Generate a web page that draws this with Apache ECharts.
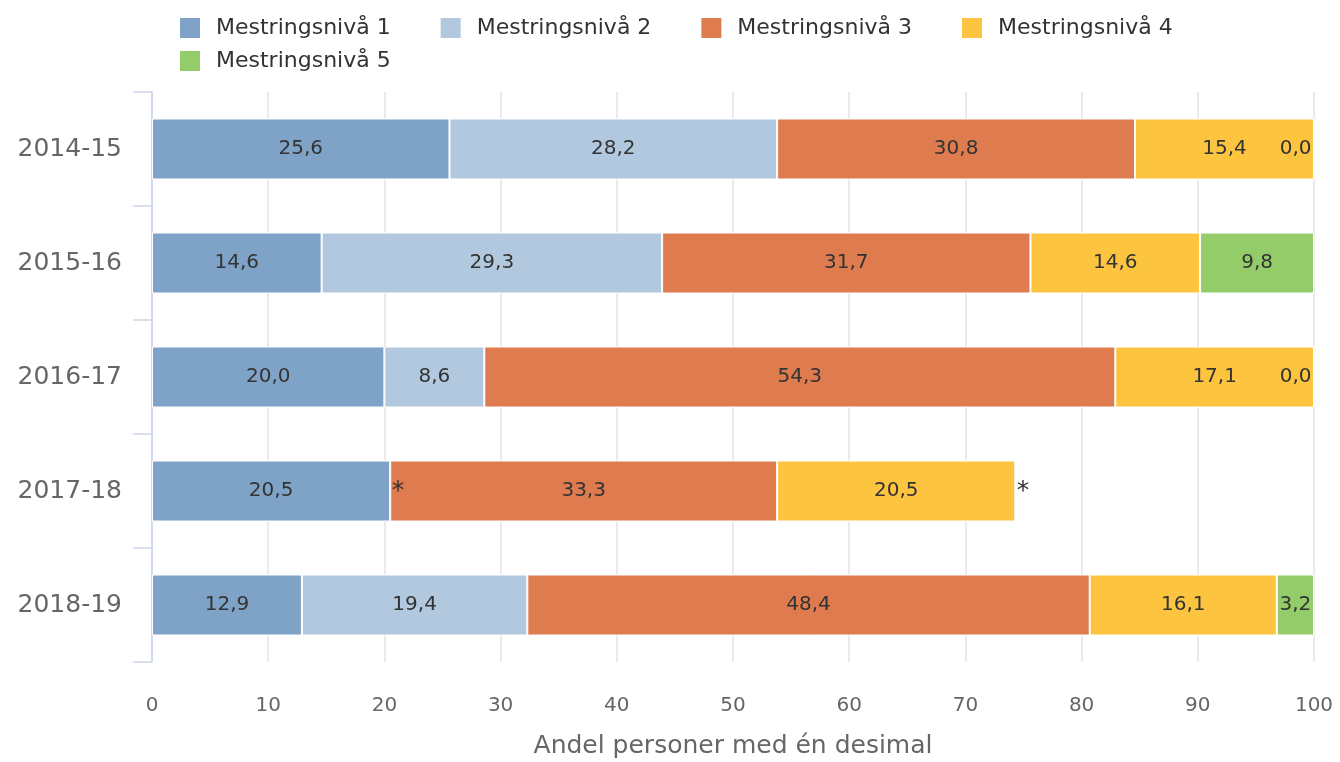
<!DOCTYPE html>
<html>
<head>
<meta charset="utf-8">
<script src="https://cdn.jsdelivr.net/npm/echarts@6/dist/echarts.min.js"></script>
<style>
html,body{margin:0;padding:0;background:#fff;}
#chart{width:1340px;height:762px;}
</style>
</head>
<body>
<div id="chart"></div>
<script>
const categories = ['2014-15', '2015-16', '2016-17', '2017-18', '2018-19'];
const seriesNames = ['Mestringsnivå 1', 'Mestringsnivå 2', 'Mestringsnivå 3', 'Mestringsnivå 4', 'Mestringsnivå 5'];
const niva1 = [25.6, 14.6, 20.0, 20.5, 12.9];
const niva2 = [28.2, 29.3, 8.6, null, 19.4];
const niva3 = [30.8, 31.7, 54.3, 33.3, 48.4];
const niva4 = [15.4, 14.6, 17.1, 20.5, 16.1];
const niva5 = [0.0, 9.8, 0.0, null, 3.2];
const xTicks = [0, 10, 20, 30, 40, 50, 60, 70, 80, 90, 100];
const colors = ['#7fa3c7', '#b1c8de', '#de7b4f', '#fcc43f', '#93cc68'];

const FONT = 'DejaVu Sans';
const fmt = v => v.toFixed(1).replace('.', ',');

function buildData(arr) {
  return arr.map(v => {
    if (v === null) {
      return { value: 0, label: { show: true, formatter: '*', position: 'right', distance: 1, fontSize: 25, color: '#333' } };
    }
    if (v === 0) {
      return { value: 0, label: { show: true, formatter: fmt(v), position: 'left', distance: 2 } };
    }
    return { value: v };
  });
}

const allSeries = [niva1, niva2, niva3, niva4, niva5].map((arr, i) => ({
  name: seriesNames[i],
  type: 'bar',
  stack: 'total',
  barWidth: 61,
  itemStyle: { color: colors[i], borderColor: '#ffffff', borderWidth: 1 },
  label: {
    show: true,
    position: 'inside',
    fontFamily: FONT,
    fontSize: 20,
    color: '#333333',
    formatter: p => fmt(p.value)
  },
  data: buildData(arr)
}));

const legendText = { fontFamily: FONT, fontSize: 22, color: '#333333', padding: [0, 0, 0, 10] };

const chart = echarts.init(document.getElementById('chart'), null, { renderer: 'canvas' });
chart.setOption({
  animation: false,
  color: colors,
  textStyle: { fontFamily: FONT },
  legend: [
    {
      data: seriesNames.slice(0, 4),
      left: 173, top: 11,
      itemWidth: 22, itemHeight: 22, itemGap: 48,
      icon: 'rect',
      textStyle: legendText
    },
    {
      data: seriesNames.slice(4),
      left: 173, top: 44,
      itemWidth: 22, itemHeight: 22,
      icon: 'rect',
      textStyle: legendText
    }
  ],
  grid: { left: 152, right: 26, top: 92, bottom: 100, containLabel: false, outerBoundsMode: 'none' },
  xAxis: {
    type: 'value',
    min: xTicks[0], max: xTicks[xTicks.length - 1], interval: 10,
    name: 'Andel personer med én desimal',
    nameLocation: 'middle',
    nameGap: 72,
    nameTextStyle: { fontFamily: FONT, fontSize: 25, color: '#666666' },
    axisLine: { show: false },
    axisTick: { show: false },
    axisLabel: { fontFamily: FONT, fontSize: 20, color: '#666666', margin: 34 },
    splitLine: { show: true, lineStyle: { color: '#e3e3e3', width: 1.5 } }
  },
  yAxis: {
    type: 'category',
    inverse: true,
    data: categories,
    boundaryGap: true,
    axisLine: { show: true, lineStyle: { color: '#ccd6eb', width: 1.5 } },
    axisTick: { show: true, length: 19, lineStyle: { color: '#ccd6eb', width: 1.5 } },
    axisLabel: { fontFamily: FONT, fontSize: 25, color: '#666666', margin: 30 },
    splitLine: { show: false }
  },
  series: allSeries
});
</script>
</body>
</html>
